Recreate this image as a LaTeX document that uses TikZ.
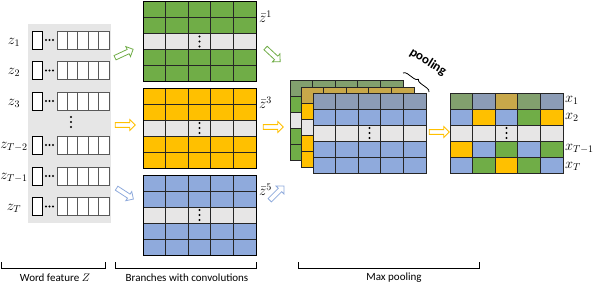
\documentclass[tikz,border=0pt]{standalone}
\usepackage{amsmath, amssymb}
\usepackage{fontspec}
\setsansfont{Carlito}
\usetikzlibrary{
  positioning, arrows.meta, shapes.arrows, calc, decorations.pathreplacing,
}
\definecolor{cGreen}   {HTML}{70AD47}
\definecolor{cYellow}  {HTML}{FFC000}
\definecolor{cBlue}    {HTML}{8FAADC}
\definecolor{cGreenM}  {HTML}{82A06E}
\definecolor{cYellowM} {HTML}{C8A84A}
\definecolor{cBlueM}   {HTML}{8C9CB6}
\definecolor{cGray}    {HTML}{E7E6E6}
\definecolor{cPanel}   {HTML}{E6E6E6}
\definecolor{cLine}    {HTML}{262626}

\tikzset{
  cellline/.style={draw=cLine, line width=0.7pt},
  wordcell/.style={draw=black!65, fill=white, line width=0.7pt},
  smallbox/.style={draw=black, fill=white, line width=0.9pt},
  hollow/.style={single arrow, draw=#1, fill=white, line width=0.8pt,
    minimum height=20pt, minimum width=11pt, inner sep=1.5pt,
    single arrow head extend=2.5pt},
  mathlab/.style={font=\Large, inner sep=0pt},
  bracket/.style={line width=0.7pt, black},
}
% one row of five cells: x, y, colours
\newcommand{\gridrow}[3]{%
  \foreach \fc [count=\i from 0] in {#3}
    \draw[cellline, fill=\fc] ({#1+22.6*\i},{#2}) rectangle ++(22.6,16);
}
\newcommand{\vdotsat}[2]{%
  \foreach \d in {-5,0,5} \fill ({#1},{#2+\d}) circle (1.1pt);
}

\begin{document}
\begin{tikzpicture}[x=1pt, y=-1pt]
  \useasboundingbox (0,0) rectangle (596,284);

  % word features
  \fill[cPanel] (28,24) rectangle (111,223);
  \foreach \y/\lab [count=\k] in {40/z_1, 70.5/z_2, 101/z_3,
      145/z_{T-2}, 176/z_{T-1}, 206.5/z_T} {
    \draw[smallbox] (32,\y-9) rectangle ++(10,18);
    \foreach \d in {46,49.5,53} \fill (\d,\y) circle (1.1pt);
    \foreach \i in {0,...,4}
      \draw[wordcell] ({57+10.4*\i},\y-9) rectangle ++(10.4,18);
    \node[mathlab] (z-\k) at (14,\y+2) {$\lab$};
  }
  \vdotsat{71}{122}

  % branches
  \foreach \c/\y/\s [count=\k] in {cGreen/1.5/1, cYellow/88/3, cBlue/175/5} {
    \gridrow{143}{\y}{\c,\c,\c,\c,\c}
    \gridrow{143}{\y+16}{\c,\c,\c,\c,\c}
    \gridrow{143}{\y+32}{cGray,cGray,cGray,cGray,cGray}
    \gridrow{143}{\y+48}{\c,\c,\c,\c,\c}
    \gridrow{143}{\y+64}{\c,\c,\c,\c,\c}
    \draw[black, line width=0.9pt] (143,\y) rectangle ++(113,80);
    \vdotsat{199.5}{\y+40}
    \node[mathlab, anchor=west] (zb-\k) at (259,\y+15) {$\bar{z}^{\s}$};
  }

  % stacked maps
  \foreach \c/\m/\x/\y in {cGreen/cGreenM/290/80, cYellow/cYellowM/301/87,
      cBlue/cBlueM/313/93} {
    \gridrow{\x}{\y}{\m,\m,\m,\m,\m}
    \gridrow{\x}{\y+16}{\c,\c,\c,\c,\c}
    \gridrow{\x}{\y+32}{cGray,cGray,cGray,cGray,cGray}
    \gridrow{\x}{\y+48}{\c,\c,\c,\c,\c}
    \gridrow{\x}{\y+64}{\c,\c,\c,\c,\c}
  }
  \vdotsat{369.5}{133}
  \draw[decorate, decoration={brace, amplitude=4pt}, line width=0.8pt]
    (403,73) -- (429,92);
  \node[font=\sffamily\bfseries\fontsize{13}{15}\selectfont, rotate=-32]
    (pool) at (428,62) {pooling};

  % max pooling result
  \gridrow{450}{93}{cGreenM,cBlueM,cYellowM,cGreenM,cBlueM}
  \gridrow{450}{109}{cBlue,cYellow,cBlue,cGreen,cYellow}
  \gridrow{450}{125}{cGray,cGray,cGray,cGray,cGray}
  \gridrow{450}{141}{cYellow,cBlue,cGreen,cBlue,cGreen}
  \gridrow{450}{157}{cBlue,cGreen,cYellow,cGreen,cBlue}
  \vdotsat{506.5}{133}
  \foreach \y/\lab [count=\k] in {100/x_1, 117/x_2, 149/x_{T-1}, 166/x_T}
    \node[mathlab, anchor=west] (x-\k) at (565,\y) {$\lab$};

  % arrows
  \node[hollow=cGreen, rotate=25]  (ar-g1) at (123,54) {};
  \node[hollow=cYellow]            (ar-y1) at (124,125) {};
  \node[hollow=cBlue, rotate=-33]  (ar-b1) at (124,193) {};
  \node[hollow=cGreen, rotate=-43] (ar-g2) at (272,54) {};
  \node[hollow=cYellow]            (ar-y2) at (272,127) {};
  \node[hollow=cBlue, rotate=45]   (ar-b2) at (276,194) {};
  \node[hollow=cYellow]            (ar-y3) at (438,132) {};

  % bottom brackets
  \foreach \a/\b/\t/\xt [count=\k] in {1/105/{Word feature $Z$}/55,
      115/256/{Branches with convolutions}/187, 298/479/{Max pooling}/394} {
    \draw[bracket] (\a,262) -- (\a,268) -- (\b,268) -- (\b,262);
    \node[font=\sffamily\fontsize{11}{13}\selectfont, inner sep=0pt]
      (lab-\k) at (\xt,277.5) {\t};
  }
\end{tikzpicture}
\end{document}
